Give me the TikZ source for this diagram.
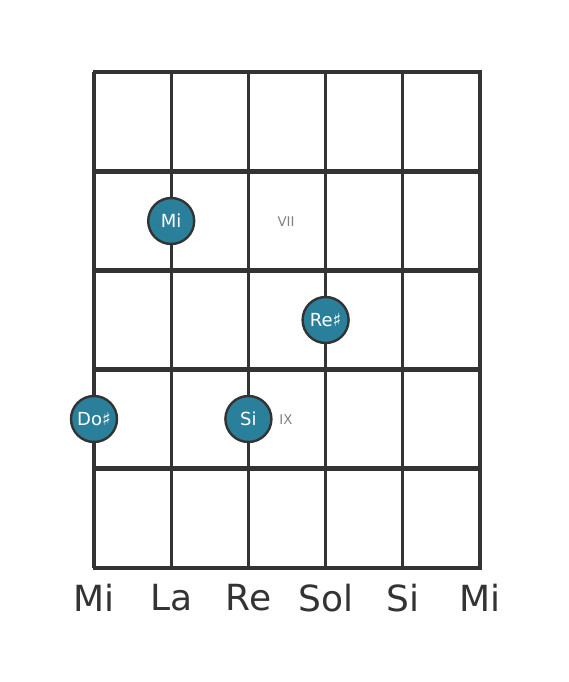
\documentclass[tikz,border=0pt]{standalone}
\usepackage{fontspec}
\setmainfont{DejaVu Sans}
\definecolor{fretgray}{HTML}{333333}
\definecolor{dotblue}{HTML}{2A7F9A}
\tikzset{
    notedot/.style={circle,fill=dotblue,draw=fretgray,line width=1.8pt,minimum size=34.5pt,inner sep=0pt,text=white,font=\fontsize{13.5}{13.5}\selectfont},
    fretlabel/.style={text=gray,font=\fontsize{10}{10}\selectfont},
    stringlabel/.style={text=fretgray,font=\fontsize{27}{27}\selectfont}
}

\begin{document}
\begin{tikzpicture}[x=0.75pt,y=-0.75pt]
    \useasboundingbox (0,0) rectangle (568,682);
    \foreach \s in {94,171.2,248.4,325.6,402.8,480} {
        \draw[fretgray,line width=2.3pt] (\s,72) -- (\s,568);
    }
    \foreach \f in {72,171.2,270.4,369.6,468.8,568} {
        \draw[fretgray,line width=3.6pt] (92.5,\f) -- (481.5,\f);
    }
    \node[fretlabel] (vii) at (286,222) {VII};
    \node[fretlabel] (ix) at (286,420) {IX};
    \node[notedot] (mi) at (171.2,221) {Mi};
    \node[notedot] (resharp) at (325.6,320) {Re♯};
    \node[notedot] (dosharp) at (94,419) {Do♯};
    \node[notedot] (si) at (248.4,419) {Si};
    \node[stringlabel] (e6) at (94,598) {Mi};
    \node[stringlabel] (a5) at (171.2,598) {La};
    \node[stringlabel] (d4) at (248.4,598) {Re};
    \node[stringlabel] (g3) at (325.6,598) {Sol};
    \node[stringlabel] (b2) at (402.8,598) {Si};
    \node[stringlabel] (e1) at (480,598) {Mi};
\end{tikzpicture}
\end{document}
